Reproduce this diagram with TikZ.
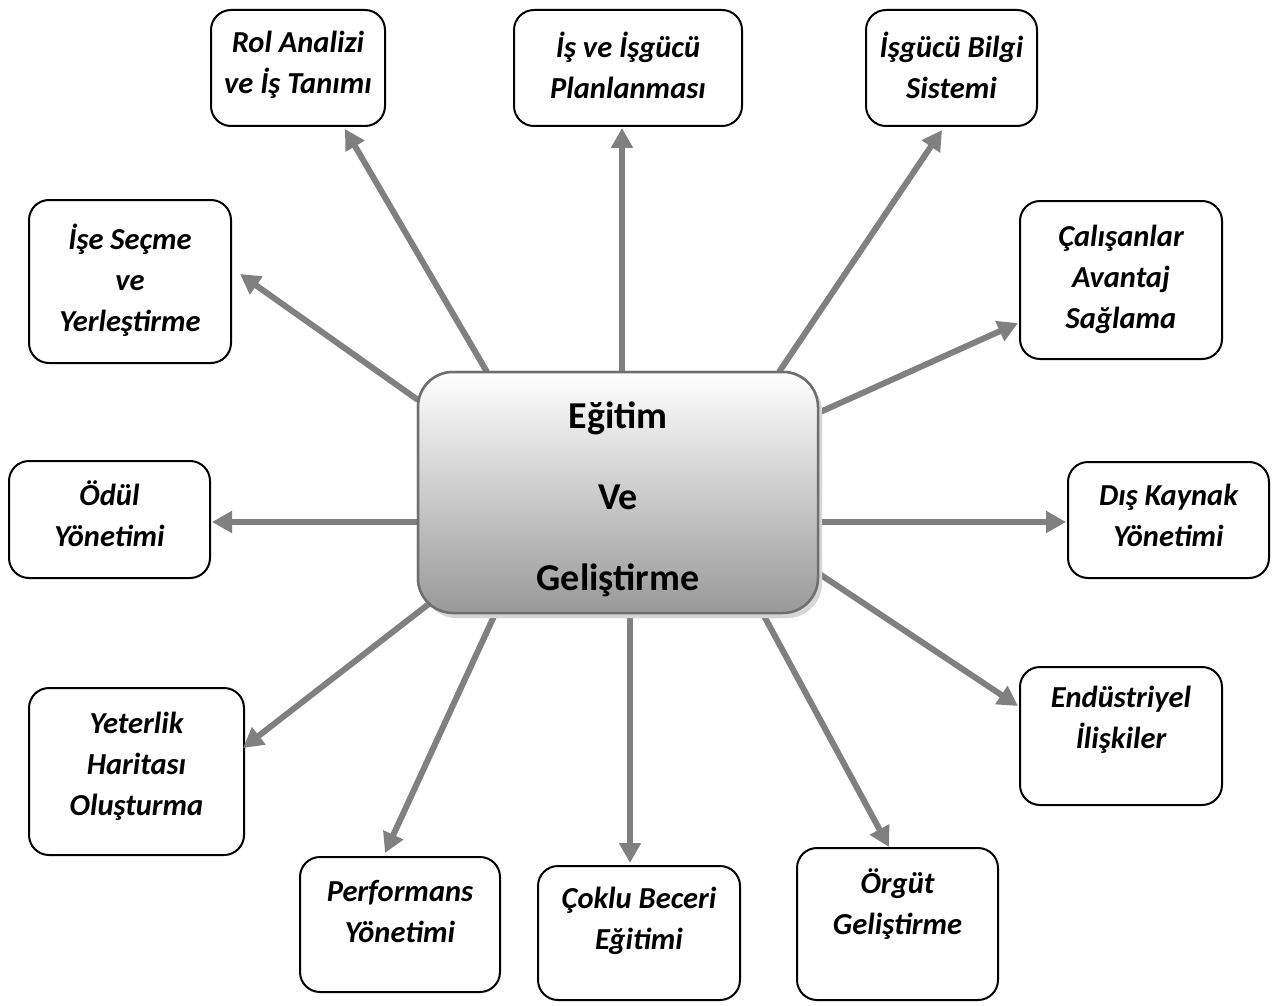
\documentclass[tikz,border=0pt]{standalone}
\usepackage{fontspec}
\setmainfont{Carlito}
\usetikzlibrary{arrows.meta,calc,shadows}

\definecolor{arrowgray}{HTML}{808080}
\definecolor{hubborder}{HTML}{6E6E6E}
\definecolor{hubshadow}{HTML}{D6D6D6}

\tikzset{
  hrbox/.style={draw=black, line width=2pt, rounded corners=20pt, fill=white,
    inner sep=0pt, outer sep=0pt},
  lbl/.style={font=\fontsize{30.5}{41}\selectfont\bfseries\itshape, align=center,
    inner sep=0pt},
  hub/.style={draw=hubborder, line width=2.5pt, rounded corners=35pt,
    top color=white, bottom color=black!40, inner sep=0pt, outer sep=0pt,
    drop shadow={shadow xshift=4pt, shadow yshift=-5pt, fill=hubshadow, opacity=1}},
  hubtext/.style={font=\fontsize{38}{81}\selectfont\bfseries, align=center,
    inner sep=0pt},
  arr/.style={draw=arrowgray, line width=6pt, -{Triangle[length=20pt,width=21pt]}},
}

% a rounded card: name, x1, y1, x2, y2, text centre y, text
\newcommand\hrcard[7]{%
  \node[hrbox, minimum width={#4-#2}, minimum height={#5-#3}] (#1)
    at ({(#2+#4)/2},{(#3+#5)/2}) {};
  \node[lbl] (#1-t) at ({(#2+#4)/2},#6) {#7};
}

\begin{document}
\begin{tikzpicture}[x=1pt, y=-1pt]
  \useasboundingbox (0,0) rectangle (1288,1006);

  % surrounding cards
  \hrcard{rol}{211}{10}{385}{126}{65}{Rol Analizi\\ve İş Tanımı}
  \hrcard{plan}{514}{10}{742}{126}{65}{İş ve İşgücü\\Planlanması}
  \hrcard{bilgi}{866}{10}{1037}{126}{65}{İşgücü Bilgi\\Sistemi}
  \hrcard{ise}{29}{200}{231}{363}{280}{İşe Seçme\\ve\\Yerleştirme}
  \hrcard{cal}{1020}{201}{1222}{359}{279}{Çalışanlar\\Avantaj\\Sağlama}
  \hrcard{odul}{9}{461}{210}{578}{514}{Ödül\\Yönetimi}
  \hrcard{dis}{1068}{462}{1269}{578}{515}{Dış Kaynak\\Yönetimi}
  \hrcard{yet}{29}{688}{244}{855}{766}{Yeterlik\\Haritası\\Oluşturma}
  \hrcard{end}{1020}{667}{1222}{805}{720}{Endüstriyel\\İlişkiler}
  \hrcard{perf}{300}{857}{500}{992}{912}{Performans\\Yönetimi}
  \hrcard{cok}{538}{866}{740}{1000}{921}{Çoklu Beceri\\Eğitimi}
  \hrcard{org}{797}{848}{998}{1000}{904}{Örgüt\\Geliştirme}

  % central hub (placed first so the arrows can refer to it)
  \node[hub, minimum width=400, minimum height=241] (c) at (618,492.5) {};

  % arrows from the hub to each card
  \draw[arr] ($(c.north west)+(69,0)$)   -- ($(rol.south west)+(134,3)$);
  \draw[arr] ($(c.north west)+(204,0)$)  -- ($(plan.south west)+(108,2)$);
  \draw[arr] ($(c.north west)+(361,0)$)  -- ($(bilgi.south west)+(76,4)$);
  \draw[arr] ($(c.north west)+(0,28)$)   -- ($(ise.north east)+(9,74)$);
  \draw[arr] ($(c.north east)+(0,41)$)   -- ($(cal.south west)+(-2,-36)$);
  \draw[arr] ($(c.west)+(0,29.5)$)       -- ($(odul.north east)+(2,61)$);
  \draw[arr] ($(c.east)+(0,29.5)$)       -- ($(dis.north west)+(-2,60)$);
  \draw[arr] ($(c.south west)+(12,-10)$) -- ($(yet.north east)+(-1,60)$);
  \draw[arr] ($(c.south east)+(0,-40)$)  -- ($(end.north west)+(-2,39)$);
  \draw[arr] ($(c.south west)+(77,1)$)   -- ($(perf.north west)+(85,-4)$);
  \draw[arr] ($(c.south west)+(212,0)$)  -- ($(cok.north west)+(92,-3)$);
  \draw[arr] ($(c.south west)+(345,1)$)  -- ($(org.north west)+(92,-1)$);

  % hub drawn again on top of the arrow roots
  \node[hub, minimum width=400, minimum height=241] (c2) at (c) {};
  \node[hubtext] (ct) at (618,499) {Eğitim\\Ve\\Geliştirme};
\end{tikzpicture}
\end{document}
